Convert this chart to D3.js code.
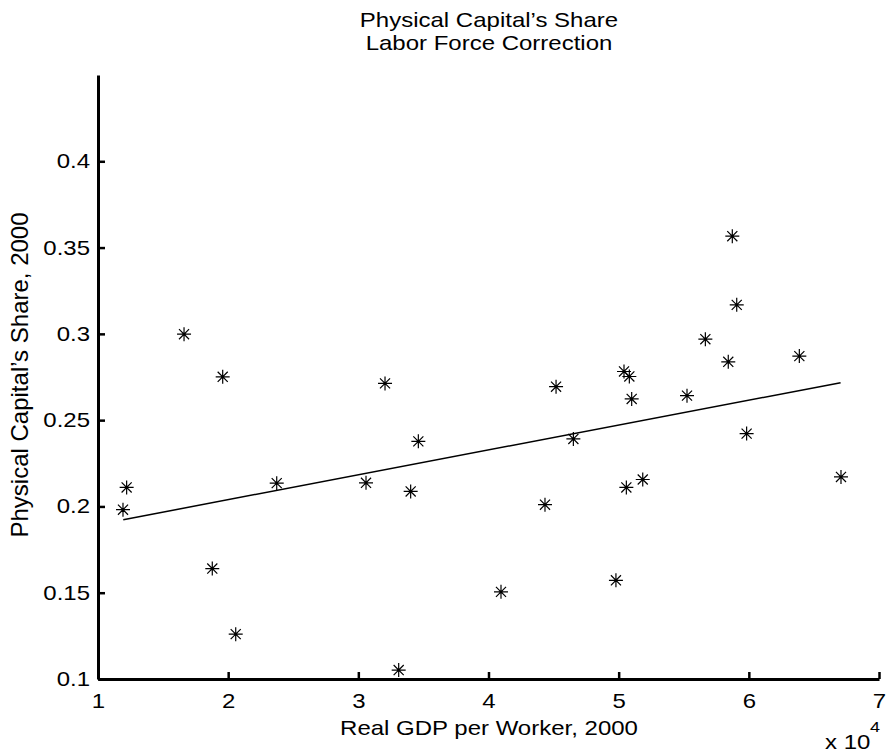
<!DOCTYPE html>
<html>
<head>
<meta charset="utf-8">
<script src="https://cdn.jsdelivr.net/npm/d3@7"></script>
<style>
  body { margin: 0; background: #fff; }
  text { font-family: "Liberation Sans", Arial, Helvetica, sans-serif; fill: #000; }
</style>
</head>
<body>
<div id="chart"></div>
<script>
// Physical capital's share vs real GDP per worker (scatter + fitted line)
const width = 891, height = 755;
const margin = {top: 75, right: 12, bottom: 76, left: 98};
const fontSize = 24;
const squash = 0.85; // the original's horizontal text is a bit flattened

// Real GDP per worker, 2000 (dollars)
const gdpPerWorker = [11920, 12200, 16610, 18780, 19580, 20580, 23730, 30590, 32050, 33100,
  34020, 34610, 40960, 44340, 45190, 46520, 49790, 50410, 50820, 50590,
  51000, 51850, 55250, 56660, 58420, 58730, 59070, 59830, 63880, 67080];
// Physical capital's share, 2000
const capitalShare = [0.1981, 0.2110, 0.2998, 0.1640, 0.2751, 0.1260, 0.2135, 0.2137, 0.2713, 0.1052,
  0.2087, 0.2377, 0.1505, 0.2010, 0.2694, 0.2391, 0.1572, 0.2782, 0.2753, 0.2110,
  0.2623, 0.2156, 0.2642, 0.2969, 0.2838, 0.3566, 0.3168, 0.2422, 0.2871, 0.2171];
// fitted line end points
const fitX = [11940, 67050];
const fitY = [0.1923, 0.2717];

const xTicks = [10000, 20000, 30000, 40000, 50000, 60000, 70000];
const xTickLabels = ["1", "2", "3", "4", "5", "6", "7"];
const yTicks = [0.1, 0.15, 0.2, 0.25, 0.3, 0.35, 0.4];
const yTickLabels = ["0.1", "0.15", "0.2", "0.25", "0.3", "0.35", "0.4"];

const svg = d3.select("#chart").append("svg")
  .attr("width", width).attr("height", height);

const x = d3.scaleLinear().domain([10000, 70000]).range([margin.left, width - margin.right]);
const y = d3.scaleLinear().domain([0.1, 0.45]).range([height - margin.bottom, margin.top]);

// axes (MATLAB style: inward ticks, no box)
const xAxis = svg.append("g")
  .attr("transform", `translate(0,${height - margin.bottom})`)
  .call(d3.axisBottom(x).tickValues(xTicks).tickSizeInner(-7).tickSizeOuter(0)
    .tickPadding(14).tickFormat((d, i) => xTickLabels[i]));
const yAxis = svg.append("g")
  .attr("transform", `translate(${margin.left},0)`)
  .call(d3.axisLeft(y).tickValues(yTicks).tickSizeInner(-7).tickSizeOuter(0)
    .tickPadding(8).tickFormat((d, i) => yTickLabels[i]));

[xAxis, yAxis].forEach(g => {
  g.select(".domain").attr("stroke", "#000").attr("stroke-width", 3);
  g.selectAll(".tick line").attr("stroke", "#000").attr("stroke-width", 2.5);
  g.selectAll(".tick text").attr("font-size", fontSize)
    .attr("font-family", "Liberation Sans, Arial, sans-serif").attr("fill", "#000")
    .attr("transform", `scale(1,${squash})`);
});
xAxis.selectAll(".tick text").attr("y", 16.5);

// fitted line
svg.append("line")
  .attr("x1", x(fitX[0])).attr("y1", y(fitY[0]))
  .attr("x2", x(fitX[1])).attr("y2", y(fitY[1]))
  .attr("stroke", "#000").attr("stroke-width", 1.5);

// asterisk markers
const r = 7, rd = r * 0.72;
const star = `M${-r},0H${r}M0,${-r}V${r}M${-rd},${-rd}L${rd},${rd}M${-rd},${rd}L${rd},${-rd}`;
svg.append("g").selectAll("path")
  .data(gdpPerWorker.map((g, i) => [g, capitalShare[i]]))
  .join("path")
  .attr("transform", d => `translate(${x(d[0])},${y(d[1])})`)
  .attr("d", star)
  .attr("fill", "none")
  .attr("stroke", "#000")
  .attr("stroke-width", 1.2);

function flatText(px, py, str, anchor = "middle") {
  return svg.append("text")
    .attr("transform", `translate(${px},${py}) scale(1,${squash})`)
    .attr("text-anchor", anchor).attr("font-size", fontSize).text(str);
}

// title
flatText(489, 27, "Physical Capital’s Share");
flatText(489, 50, "Labor Force Correction");

// axis labels
flatText(489, 735, "Real GDP per Worker, 2000");
svg.append("text").attr("transform", "translate(28,375) rotate(-90)")
  .attr("text-anchor", "middle").attr("font-size", fontSize)
  .text("Physical Capital’s Share, 2000");

// exponent label
flatText(825, 749, "x 10", "start");
flatText(870, 732, "4", "start").attr("font-size", 18);
</script>
</body>
</html>
